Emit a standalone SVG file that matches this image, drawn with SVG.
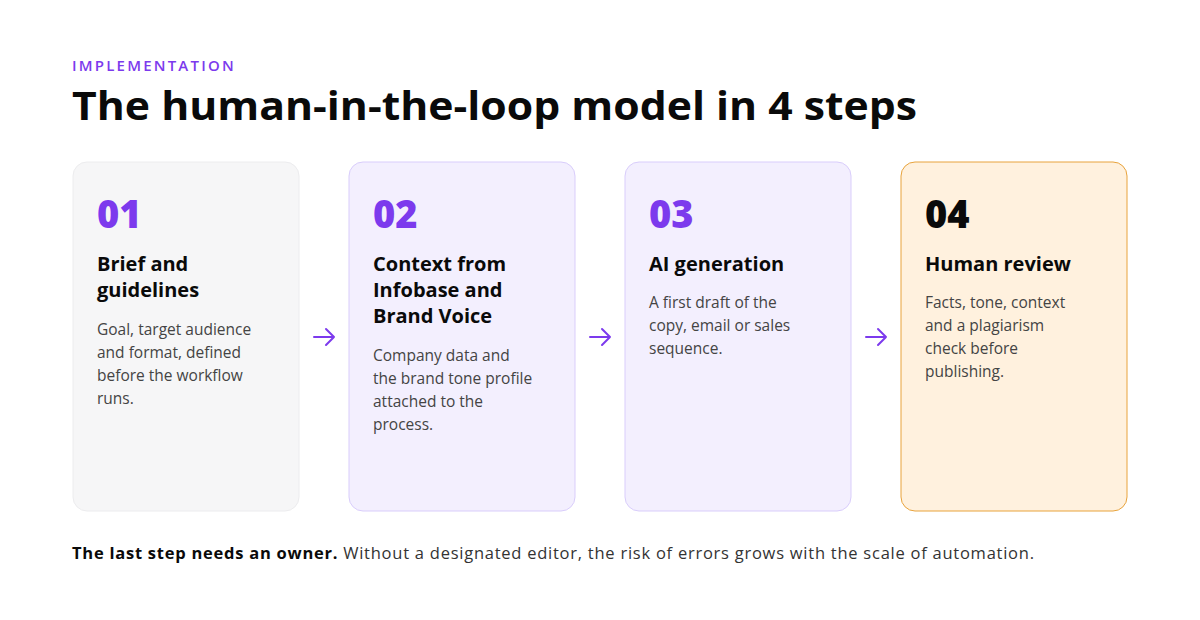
<svg xmlns="http://www.w3.org/2000/svg" width="1200" height="620" viewBox="0 0 1200 620">
<defs>
<style>
text{font-family:"Open Sans","DejaVu Sans",sans-serif}
.eyebrow{font-size:15px;font-weight:600;fill:#7c3aed;letter-spacing:2.2px}
.title{font-size:39px;font-weight:700;fill:#0a0a0a}
.num{font-size:38px;font-weight:800;fill:#7c3aed}
.h{font-size:20px;font-weight:700;fill:#0a0a0a}
.b{font-size:15.5px;fill:#444}
.foot{font-size:16.5px;fill:#333}
.arrow{fill:none;stroke:#7c3aed;stroke-width:2;stroke-linecap:round;stroke-linejoin:round}
</style>
</defs>
<rect width="1200" height="620" fill="#fff"/>
<text class="eyebrow" x="72" y="71">IMPLEMENTATION</text>
<text class="title" x="72" y="120" textLength="845" lengthAdjust="spacingAndGlyphs">The human-in-the-loop model in 4 steps</text>

<g id="step1">
<rect x="73" y="162" width="226" height="349" rx="14" fill="#f6f6f7" stroke="#ececee"/>
<text class="num" x="97" y="228">01</text>
<text class="h" x="97" y="271">Brief and</text>
<text class="h" x="97" y="297">guidelines</text>
<text class="b" x="97" y="335">Goal, target audience</text>
<text class="b" x="97" y="358">and format, defined</text>
<text class="b" x="97" y="381">before the workflow</text>
<text class="b" x="97" y="404">runs.</text>
</g>
<g id="step2">
<rect x="349" y="162" width="226" height="349" rx="14" fill="#f3effe" stroke="#d9cdfb"/>
<text class="num" x="373" y="228">02</text>
<text class="h" x="373" y="271">Context from</text>
<text class="h" x="373" y="297">Infobase and</text>
<text class="h" x="373" y="323">Brand Voice</text>
<text class="b" x="373" y="361">Company data and</text>
<text class="b" x="373" y="384">the brand tone profile</text>
<text class="b" x="373" y="407">attached to the</text>
<text class="b" x="373" y="430">process.</text>
</g>
<g id="step3">
<rect x="625" y="162" width="226" height="349" rx="14" fill="#f3effe" stroke="#d9cdfb"/>
<text class="num" x="649" y="228">03</text>
<text class="h" x="649" y="271">AI generation</text>
<text class="b" x="649" y="308">A first draft of the</text>
<text class="b" x="649" y="331">copy, email or sales</text>
<text class="b" x="649" y="354">sequence.</text>
</g>
<g id="step4">
<rect x="901" y="162" width="226" height="349" rx="14" fill="#fff1de" stroke="#e8a33c"/>
<text class="num" x="925" y="228" style="fill:#0a0a0a">04</text>
<text class="h" x="925" y="271">Human review</text>
<text class="b" x="925" y="308">Facts, tone, context</text>
<text class="b" x="925" y="331">and a plagiarism</text>
<text class="b" x="925" y="354">check before</text>
<text class="b" x="925" y="377">publishing.</text>
</g>
<g id="connectors">
<path class="arrow" d="M314 337H334M326 329L334 337L326 345"/>
<path class="arrow" d="M590 337H610M602 329L610 337L602 345"/>
<path class="arrow" d="M866 337H886M878 329L886 337L878 345"/>
</g>
<text class="foot" x="72" y="559" textLength="962"><tspan font-weight="700" fill="#0a0a0a">The last step needs an owner.</tspan> Without a designated editor, the risk of errors grows with the scale of automation.</text>
</svg>
